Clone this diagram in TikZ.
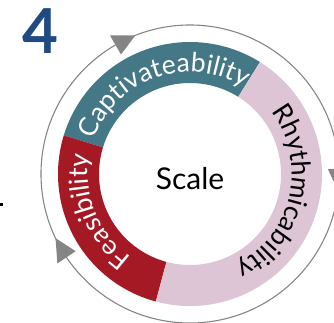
\documentclass[tikz,border=0pt]{standalone}
\usepackage{fontspec}
\setmainfont{Lato}
\usetikzlibrary{decorations.text}
\definecolor{cteal}{HTML}{457886}
\definecolor{cred}{HTML}{A51925}
\definecolor{cpink}{HTML}{DDC5D6}
\definecolor{cblue}{HTML}{1F4B82}
\definecolor{cgray}{HTML}{858585}
\newcommand\mysector[3]{\fill[#3] (#1:132) arc[start angle=#1,end angle=#2,radius=132] -- (#2:91) arc[start angle=#2,end angle=#1,radius=91] -- cycle;}
\newcommand\myarrowhead[1]{\fill[cgray] (#1-4.5:149) -- (#1+4:138) -- (#1+4:160) -- cycle;}
\begin{document}
\begin{tikzpicture}[x=1pt,y=1pt]
\useasboundingbox (-190,-148) rectangle (144,174);
% outer cycle
\draw[cgray,line width=1.1pt] (0,0) circle[radius=149];
\myarrowhead{116}
\myarrowhead{-2}
\myarrowhead{210}
% bands
\mysector{58}{163}{cteal}
\mysector{163}{255}{cred}
\mysector{255}{418}{cpink}
% band labels
\path[decorate,decoration={text along path,text align=center,
  text={|\fontsize{26.5}{26}\selectfont\color{white}|Captivateability}}]
  (169:102) arc[start angle=169,end angle=49,radius=102];
\path[decorate,decoration={text along path,text align=center,
  text={|\fontsize{26.5}{26}\selectfont\color{black}|Rhythmicability}}]
  (47:102) arc[start angle=47,end angle=-73,radius=102];
\path[decorate,decoration={text along path,text align=center,
  text={|\fontsize{26.5}{26}\selectfont\color{white}|Feasibility}}]
  (262:102) arc[start angle=262,end angle=142,radius=102];
% centre
\node (scale) at (0,-5) {\fontsize{30}{30}\selectfont Scale};
\node[text=cblue] (num) at (-150,143) {\fontsize{62}{62}\selectfont\bfseries 4};
\fill (-190,-29) rectangle (-187,-32);
\end{tikzpicture}
\end{document}
